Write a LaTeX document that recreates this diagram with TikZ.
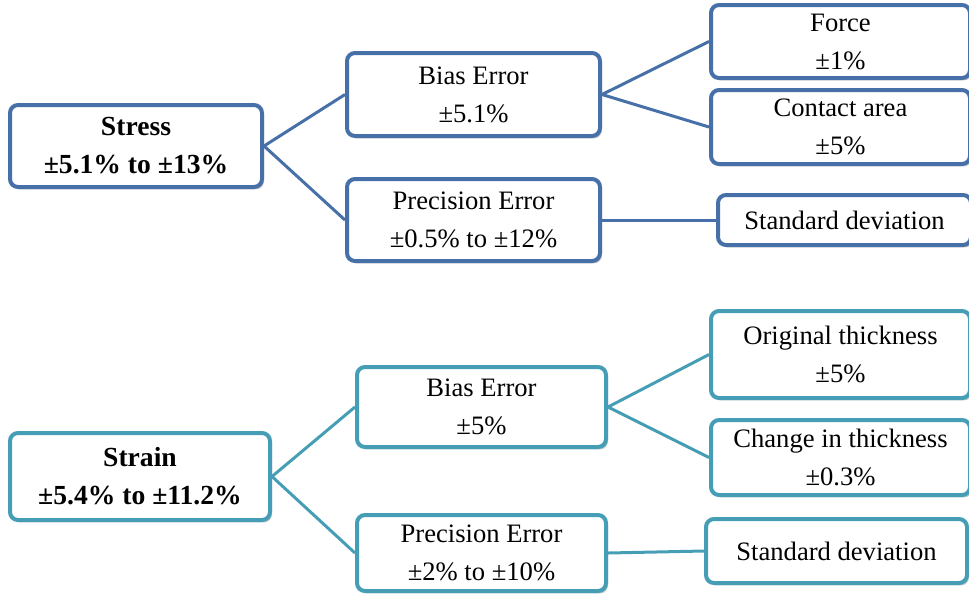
\documentclass[tikz,border=0pt]{standalone}
\usepackage{fontspec}
\setmainfont{Liberation Serif}
\usetikzlibrary{fit,shadows}
\definecolor{stressblue}{RGB}{72,112,168}
\definecolor{strainteal}{RGB}{70,158,182}
\begin{document}
\begin{tikzpicture}[x=0.5pt,y=-0.5pt,
  box/.style={draw, line width=2pt, rounded corners=4pt, fill=white,
    inner sep=0pt,
    drop shadow={shadow xshift=1pt, shadow yshift=-1.2pt, opacity=0.22, fill=black}},
  stressbox/.style={box, draw=stressblue},
  strainbox/.style={box, draw=strainteal},
  txt/.style={align=center, inner sep=0pt, font=\fontsize{13.3}{19}\selectfont},
  boldtxt/.style={align=center, inner sep=0pt, font=\fontsize{13.8}{19}\selectfont\bfseries},
  stresslink/.style={draw=stressblue, line width=1.5pt},
  strainlink/.style={draw=strainteal, line width=1.5pt}]
\clip (0,0) rectangle (969,596);
\useasboundingbox (0,0) rectangle (969,596);

% Stress tree: frames
\node[stressbox, fit={(10,105) (262,187)}] (stress) {};
\node[stressbox, fit={(347,53) (600,136)}] (sbias) {};
\node[stressbox, fit={(347,179) (600,261)}] (sprec) {};
\node[stressbox, fit={(711,5) (970,78)}] (force) {};
\node[stressbox, fit={(711,90) (970,164)}] (area) {};
\node[stressbox, fit={(718,195) (971,245)}] (ssd) {};
% Stress tree: texts
\node[boldtxt] (stress-t) at (stress.center) {Stress\\±5.1\% to ±13\%};
\node[txt] (sbias-t) at (sbias.center) {Bias Error\\±5.1\%};
\node[txt] (sprec-t) at (sprec.center) {Precision Error\\±0.5\% to ±12\%};
\node[txt] (force-t) at (force.center) {Force\\±1\%};
\node[txt] (area-t) at (area.center) {Contact area\\±5\%};
\node[txt] (ssd-t) at (ssd.center) {Standard deviation};

\draw[stresslink] (stress.east) -- (sbias.west);
\draw[stresslink] (stress.east) -- (sprec.west);
\draw[stresslink] (sbias.east) -- (force.west);
\draw[stresslink] (sbias.east) -- (area.west);
\draw[stresslink] (sprec.east) -- (ssd.west);

% Strain tree: frames
\node[strainbox, fit={(10,433) (270,520)}] (strain) {};
\node[strainbox, fit={(357,367) (606,447)}] (tbias) {};
\node[strainbox, fit={(357,515) (606,591)}] (tprec) {};
\node[strainbox, fit={(711,311) (970,398)}] (orig) {};
\node[strainbox, fit={(711,420) (970,495)}] (change) {};
\node[strainbox, fit={(706,519) (967,583)}] (tsd) {};
% Strain tree: texts
\node[boldtxt] (strain-t) at (strain.center) {Strain\\±5.4\% to ±11.2\%};
\node[txt] (tbias-t) at (tbias.center) {Bias Error\\±5\%};
\node[txt] (tprec-t) at (tprec.center) {Precision Error\\±2\% to ±10\%};
\node[txt] (orig-t) at (orig.center) {Original thickness\\±5\%};
\node[txt] (change-t) at (change.center) {Change in thickness\\±0.3\%};
\node[txt] (tsd-t) at (tsd.center) {Standard deviation};

\draw[strainlink] (strain.east) -- (tbias.west);
\draw[strainlink] (strain.east) -- (tprec.west);
\draw[strainlink] (tbias.east) -- (orig.west);
\draw[strainlink] (tbias.east) -- (change.west);
\draw[strainlink] (tprec.east) -- (tsd.west);
\end{tikzpicture}
\end{document}
